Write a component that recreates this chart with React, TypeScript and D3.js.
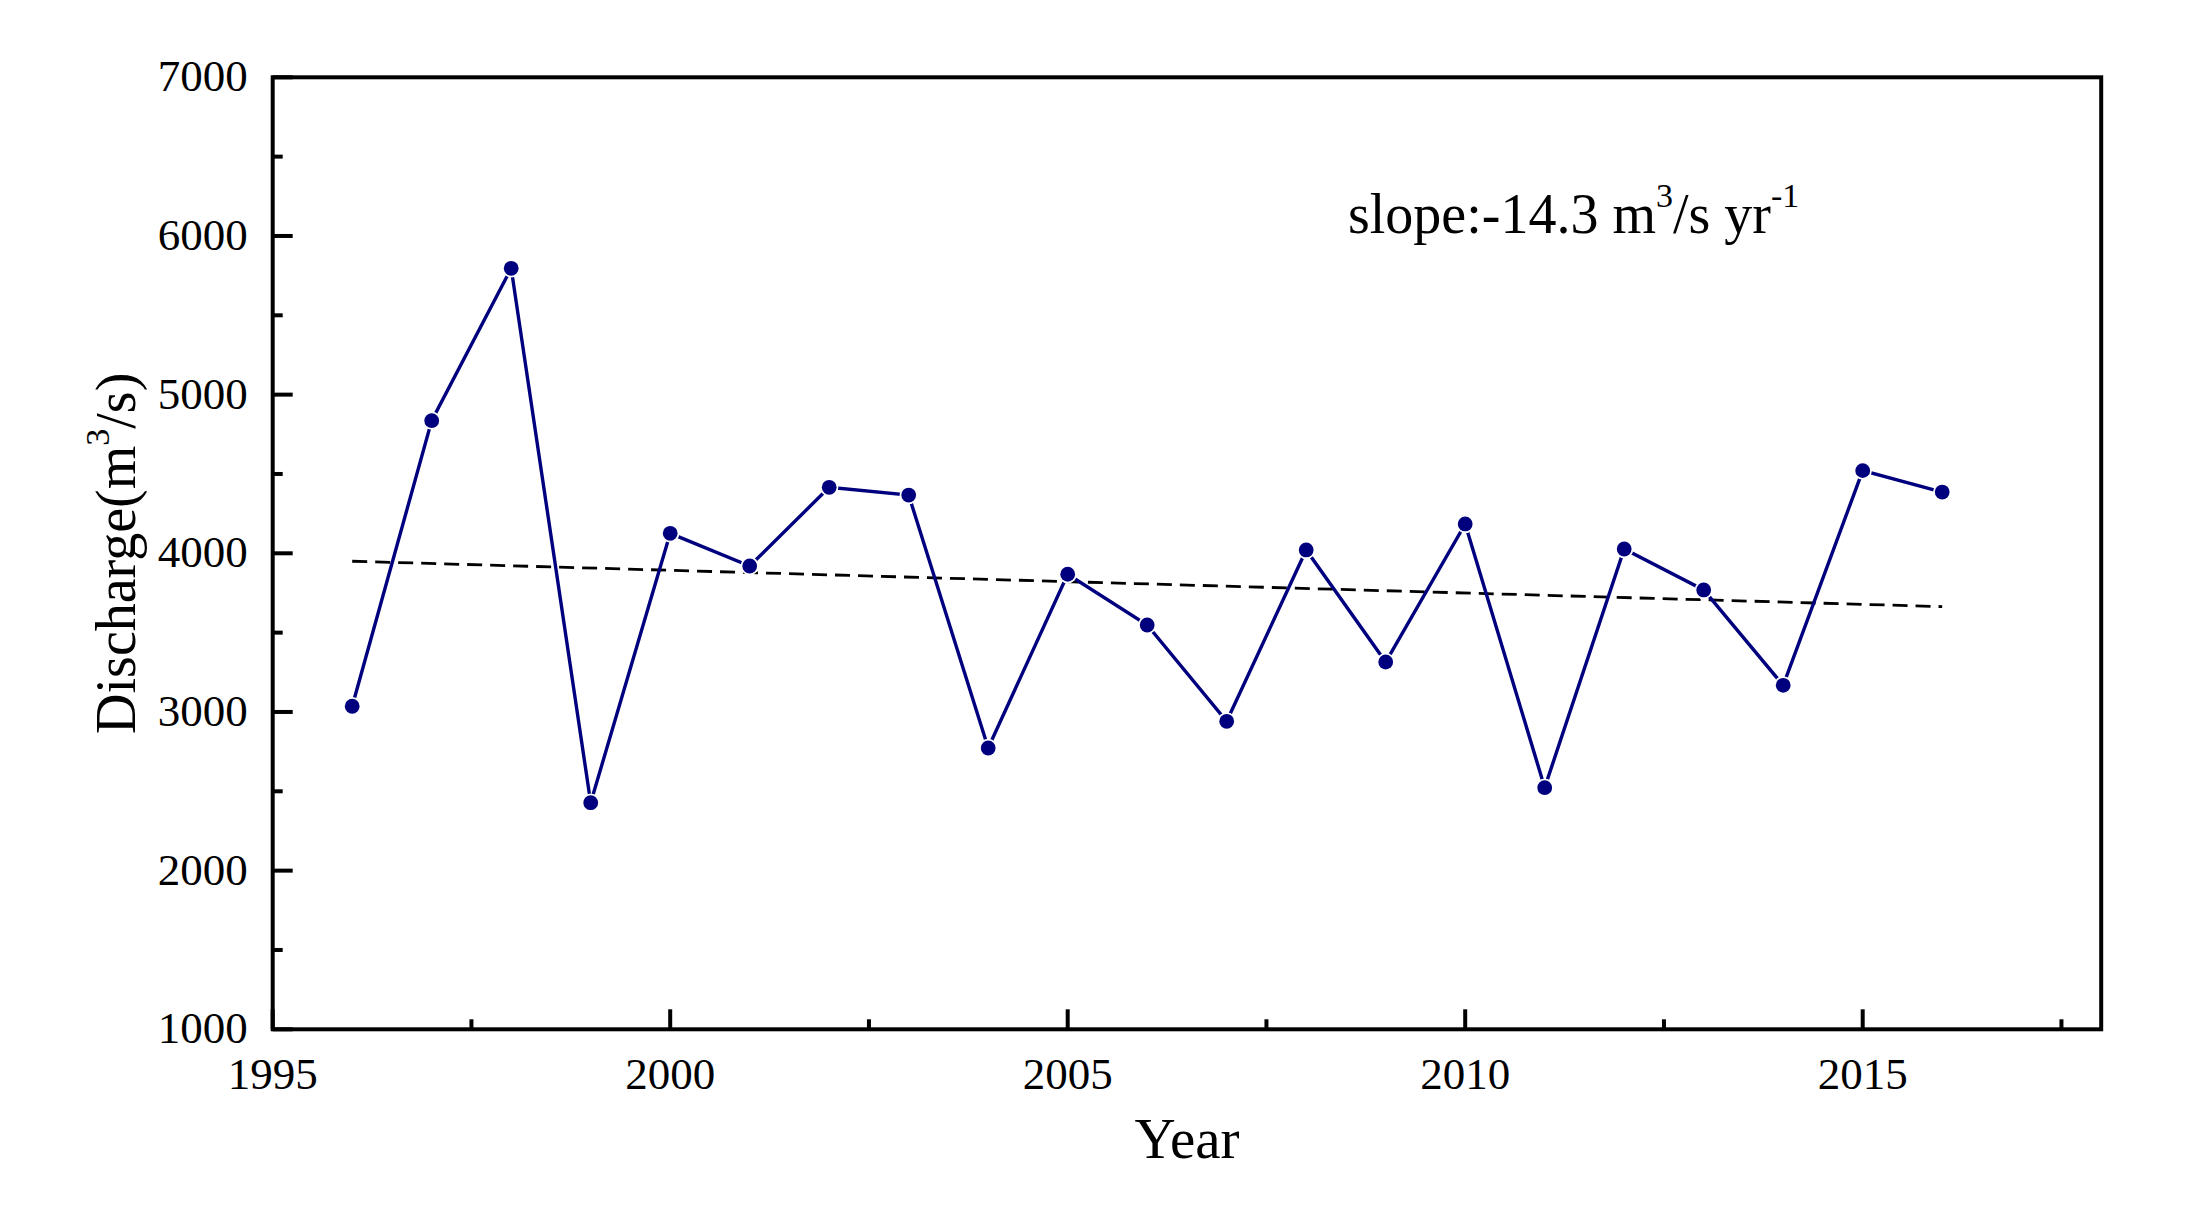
import React from "react";
import * as d3 from "d3";

const years = [1996, 1997, 1998, 1999, 2000, 2001, 2002, 2003, 2004, 2005, 2006, 2007, 2008, 2009, 2010, 2011, 2012, 2013, 2014, 2015, 2016];
const discharge = [3036, 4836, 5796, 2428, 4126, 3920, 4416, 4367, 2773, 3868, 3548, 2941, 4021, 3315, 4185, 2523, 4027, 3769, 3168, 4521, 4386];
const trendYears = [1996, 2016];
const trendStartValue = 3950;
const trendSlope = -14.3;
const xMajorTicks = [1995, 2000, 2005, 2010, 2015];
const xMinorTicks = [1997.5, 2002.5, 2007.5, 2012.5, 2017.5];
const yMajorTicks = [1000, 2000, 3000, 4000, 5000, 6000, 7000];
const yMinorTicks = [1500, 2500, 3500, 4500, 5500, 6500];

const W = 2188;
const H = 1207;
const L = 272.7;
const R = 2101.2;
const T = 77.3;
const B = 1029.3;
const FONT = "'Liberation Serif', 'Times New Roman', serif";
const NAVY = "#00007f";

export default function App() {
  const x = d3.scaleLinear().domain([1995, 2018]).range([L, R]);
  const y = d3.scaleLinear().domain([1000, 7000]).range([B, T]);

  const line = d3
    .line<number>()
    .x((_, i) => x(years[i]))
    .y((d) => y(d));

  const trend = trendYears.map((yr) => trendStartValue + trendSlope * (yr - trendYears[0]));
  const trendLine = d3
    .line<number>()
    .x((_, i) => x(trendYears[i]))
    .y((d) => y(d));

  return (
    <svg
      width={W}
      height={H}
      style={{ position: "absolute", left: 0, top: 0, background: "#fff" }}
      fontFamily={FONT}
    >
      <rect x={0} y={0} width={W} height={H} fill="#fff" />
      {/* trend */}
      <path d={trendLine(trend) || ""} fill="none" stroke="#000" strokeWidth={2.8} strokeDasharray="15 8" />
      {/* data line */}
      <path d={line(discharge) || ""} fill="none" stroke={NAVY} strokeWidth={3.4} strokeLinejoin="miter" />
      {discharge.map((d, i) => (
        <circle key={i} cx={x(years[i])} cy={y(d)} r={7.4} fill={NAVY} stroke="#fff" strokeWidth={3.5} />
      ))}
      {discharge.map((d, i) => (
        <circle key={"c" + i} cx={x(years[i])} cy={y(d)} r={7.4} fill={NAVY} />
      ))}

      {/* ticks */}
      {xMajorTicks.map((t) => (
        <line key={"xM" + t} x1={x(t)} x2={x(t)} y1={B} y2={B - 20} stroke="#000" strokeWidth={4} />
      ))}
      {xMinorTicks.map((t) => (
        <line key={"xm" + t} x1={x(t)} x2={x(t)} y1={B} y2={B - 10} stroke="#000" strokeWidth={4} />
      ))}
      {yMajorTicks.map((t) => (
        <line key={"yM" + t} x1={L} x2={L + 20} y1={y(t)} y2={y(t)} stroke="#000" strokeWidth={4} />
      ))}
      {yMinorTicks.map((t) => (
        <line key={"ym" + t} x1={L} x2={L + 10} y1={y(t)} y2={y(t)} stroke="#000" strokeWidth={4} />
      ))}

      {/* frame */}
      <rect x={L} y={T} width={R - L} height={B - T} fill="none" stroke="#000" strokeWidth={4} />

      {/* tick labels */}
      {xMajorTicks.map((t) => (
        <text key={"xl" + t} x={x(t)} y={B + 60} fontSize={45} textAnchor="middle" fill="#000">
          {t}
        </text>
      ))}
      {yMajorTicks.map((t) => (
        <text key={"yl" + t} x={L - 25} y={y(t) + 14} fontSize={45} textAnchor="end" fill="#000">
          {t}
        </text>
      ))}

      {/* axis titles */}
      <text x={(L + R) / 2} y={1158} fontSize={57} textAnchor="middle" fill="#000">
        Year
      </text>
      <text
        transform={`translate(135, ${(T + B) / 2}) rotate(-90)`}
        fontSize={56}
        textAnchor="middle"
        fill="#000"
      >
        Discharge(m<tspan fontSize={34} dy={-26}>3</tspan>
        <tspan dy={26}>/s)</tspan>
      </text>

      {/* annotation */}
      <text x={1348} y={233} fontSize={56} fill="#000">
        slope:-14.3 m<tspan fontSize={34} dy={-26}>3</tspan>
        <tspan dy={26}>/s yr</tspan>
        <tspan fontSize={34} dy={-26}>-1</tspan>
      </text>
    </svg>
  );
}
